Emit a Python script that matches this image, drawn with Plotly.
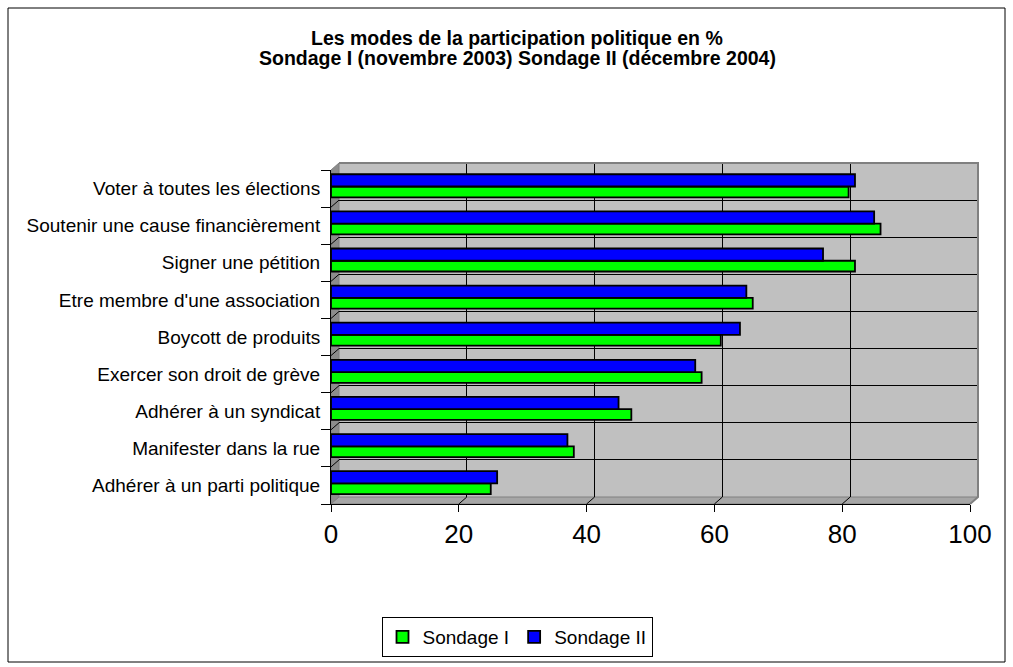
import plotly.graph_objects as go

# ---------------- data ----------------
categories = [
    "Voter à toutes les élections",
    "Soutenir une cause financièrement",
    "Signer une pétition",
    "Etre membre d'une association",
    "Boycott de produits",
    "Exercer son droit de grève",
    "Adhérer à un syndicat",
    "Manifester dans la rue",
    "Adhérer à un parti politique",
]
sondage_1 = [81, 86, 82, 66, 61, 58, 47, 38, 25]
sondage_2 = [82, 85, 77, 65, 64, 57, 45, 37, 26]
x_ticks = [0, 20, 40, 60, 80, 100]
series_names = ["Sondage I", "Sondage II"]
title_lines = [
    "Les modes de la participation politique en %",
    "Sondage I (novembre 2003) Sondage II (décembre 2004)",
]

# ---------------- geometry helpers (pixels -> paper) ----------------
W, H = 1013, 667
def px(x):
    return x / W
def py(y):
    return 1 - y / H

FRONT_L, FRONT_R, FRONT_T, FRONT_B = 331, 970, 170, 504
DX, DY = 8, 7  # 3D depth offset
BACK_L, BACK_R, BACK_T, BACK_B = FRONT_L + DX, FRONT_R + DX, FRONT_T - DY, FRONT_B - DY

FONT = "Arial, Liberation Sans, sans-serif"

fig = go.Figure()

# invisible helper so that the back-wall subplot (x / y) is created
fig.add_trace(go.Scatter(x=[0], y=[0], mode="markers", marker=dict(opacity=0),
                         showlegend=False, hoverinfo="skip", xaxis="x", yaxis="y"))

fig.add_trace(go.Bar(
    y=categories, x=sondage_1, orientation="h", name=series_names[0],
    marker=dict(color="#00FF00", line=dict(color="black", width=1.8)),
    width=0.29, offset=-0.235, xaxis="x2", yaxis="y2",
))
fig.add_trace(go.Bar(
    y=categories, x=sondage_2, orientation="h", name=series_names[1],
    marker=dict(color="#0000FF", line=dict(color="black", width=1.8)),
    width=0.33, offset=0.055, xaxis="x2", yaxis="y2",
))

shapes = []
# outer frame
shapes.append(dict(type="rect", xref="paper", yref="paper",
                   x0=px(8), x1=px(1005), y0=py(662), y1=py(8),
                   line=dict(color="black", width=1), fillcolor="white", layer="below"))
# back wall
shapes.append(dict(type="rect", xref="paper", yref="paper",
                   x0=px(BACK_L), x1=px(BACK_R), y0=py(BACK_B), y1=py(BACK_T),
                   fillcolor="#C0C0C0", line=dict(width=0), layer="below"))
# side wall
shapes.append(dict(type="path", xref="paper", yref="paper", layer="below",
                   path=f"M {px(FRONT_L)},{py(FRONT_T)} L {px(BACK_L)},{py(BACK_T)} "
                        f"L {px(BACK_L)},{py(BACK_B)} L {px(FRONT_L)},{py(FRONT_B)} Z",
                   fillcolor="#8C8C8C", line=dict(color="#808080", width=1)))
# floor
shapes.append(dict(type="path", xref="paper", yref="paper", layer="below",
                   path=f"M {px(FRONT_L)},{py(FRONT_B)} L {px(BACK_L)},{py(BACK_B)} "
                        f"L {px(BACK_R)},{py(BACK_B)} L {px(FRONT_R)},{py(FRONT_B)} Z",
                   fillcolor="#A6A6A6", line=dict(color="#808080", width=1)))
# wall border (top / right edges, gray)
shapes.append(dict(type="path", xref="paper", yref="paper", layer="above",
                   path=f"M {px(BACK_L)},{py(BACK_T)} L {px(BACK_R)},{py(BACK_T)} "
                        f"L {px(BACK_R)},{py(BACK_B)} L {px(FRONT_R)},{py(FRONT_B)}",
                   line=dict(color="#808080", width=2)))
# diagonal continuation of gridlines on side wall
n = len(categories)
for k in range(1, n):
    yk = FRONT_T + k * (FRONT_B - FRONT_T) / n
    shapes.append(dict(type="line", xref="paper", yref="paper", layer="above",
                       x0=px(FRONT_L), y0=py(yk), x1=px(BACK_L), y1=py(yk - DY),
                       line=dict(color="black", width=1)))
# diagonal continuation on floor
for v in x_ticks[1:-1]:
    xv = FRONT_L + v / 100 * (FRONT_R - FRONT_L)
    shapes.append(dict(type="line", xref="paper", yref="paper", layer="above",
                       x0=px(xv), y0=py(FRONT_B), x1=px(xv + DX), y1=py(BACK_B),
                       line=dict(color="black", width=1)))

# title, two lines placed individually
annotations = []
for line_text, yc in zip(title_lines, [38, 58]):
    annotations.append(dict(text=f"<b>{line_text}</b>", xref="paper", yref="paper",
                            x=px(517), y=py(yc), xanchor="center", yanchor="middle",
                            showarrow=False,
                            font=dict(family=FONT, size=19.5, color="black")))

fig.update_layout(
    template="none",
    width=W, height=H,
    margin=dict(l=0, r=0, t=0, b=0, autoexpand=False),
    paper_bgcolor="white",
    plot_bgcolor="rgba(0,0,0,0)",
    font=dict(family=FONT, color="black"),
    barmode="overlay",
    annotations=annotations,
    xaxis=dict(domain=[px(BACK_L), px(BACK_R)], range=[0, 100], tick0=0, dtick=20,
               showgrid=True, gridcolor="black", gridwidth=1, zeroline=False,
               showticklabels=False, ticks="", showline=False, anchor="y",
               automargin=False, fixedrange=True),
    yaxis=dict(domain=[py(BACK_B), py(BACK_T)], range=[0, n], tick0=0, dtick=1,
               showgrid=True, gridcolor="black", gridwidth=1, zeroline=False,
               showticklabels=False, ticks="", showline=False, anchor="x",
               automargin=False, fixedrange=True),
    xaxis2=dict(domain=[px(FRONT_L), px(FRONT_R)], range=[0, 100],
                tickmode="array", tickvals=x_ticks, ticks="outside", ticklen=7,
                tickcolor="black", showline=True, linecolor="black", linewidth=1,
                showgrid=False, zeroline=False, anchor="y2",
                tickfont=dict(family=FONT, size=26, color="black"),
                automargin=False, fixedrange=True),
    yaxis2=dict(domain=[py(FRONT_B), py(FRONT_T)], type="category",
                categoryorder="array", categoryarray=categories[::-1],
                range=[-0.5, n - 0.5], tickson="boundaries", ticks="outside",
                ticklen=9, tickcolor="black", showline=True, linecolor="black",
                linewidth=1, showgrid=False, zeroline=False, anchor="x2",
                ticklabelstandoff=6,
                tickfont=dict(family=FONT, size=19, color="black"),
                automargin=False, fixedrange=True),
    legend=dict(orientation="h", x=px(517), xanchor="center", y=py(637), yanchor="middle",
                bgcolor="white", bordercolor="black", borderwidth=1,
                font=dict(family=FONT, size=19, color="black"),
                traceorder="normal", itemwidth=30, tracegroupgap=0),
    shapes=shapes,
)

# remove the browser's default 8px body margin so the figure sits at (0, 0)
fig.write_html("out.html", config={"displayModeBar": False},
               post_script="document.body.style.margin='0';")
